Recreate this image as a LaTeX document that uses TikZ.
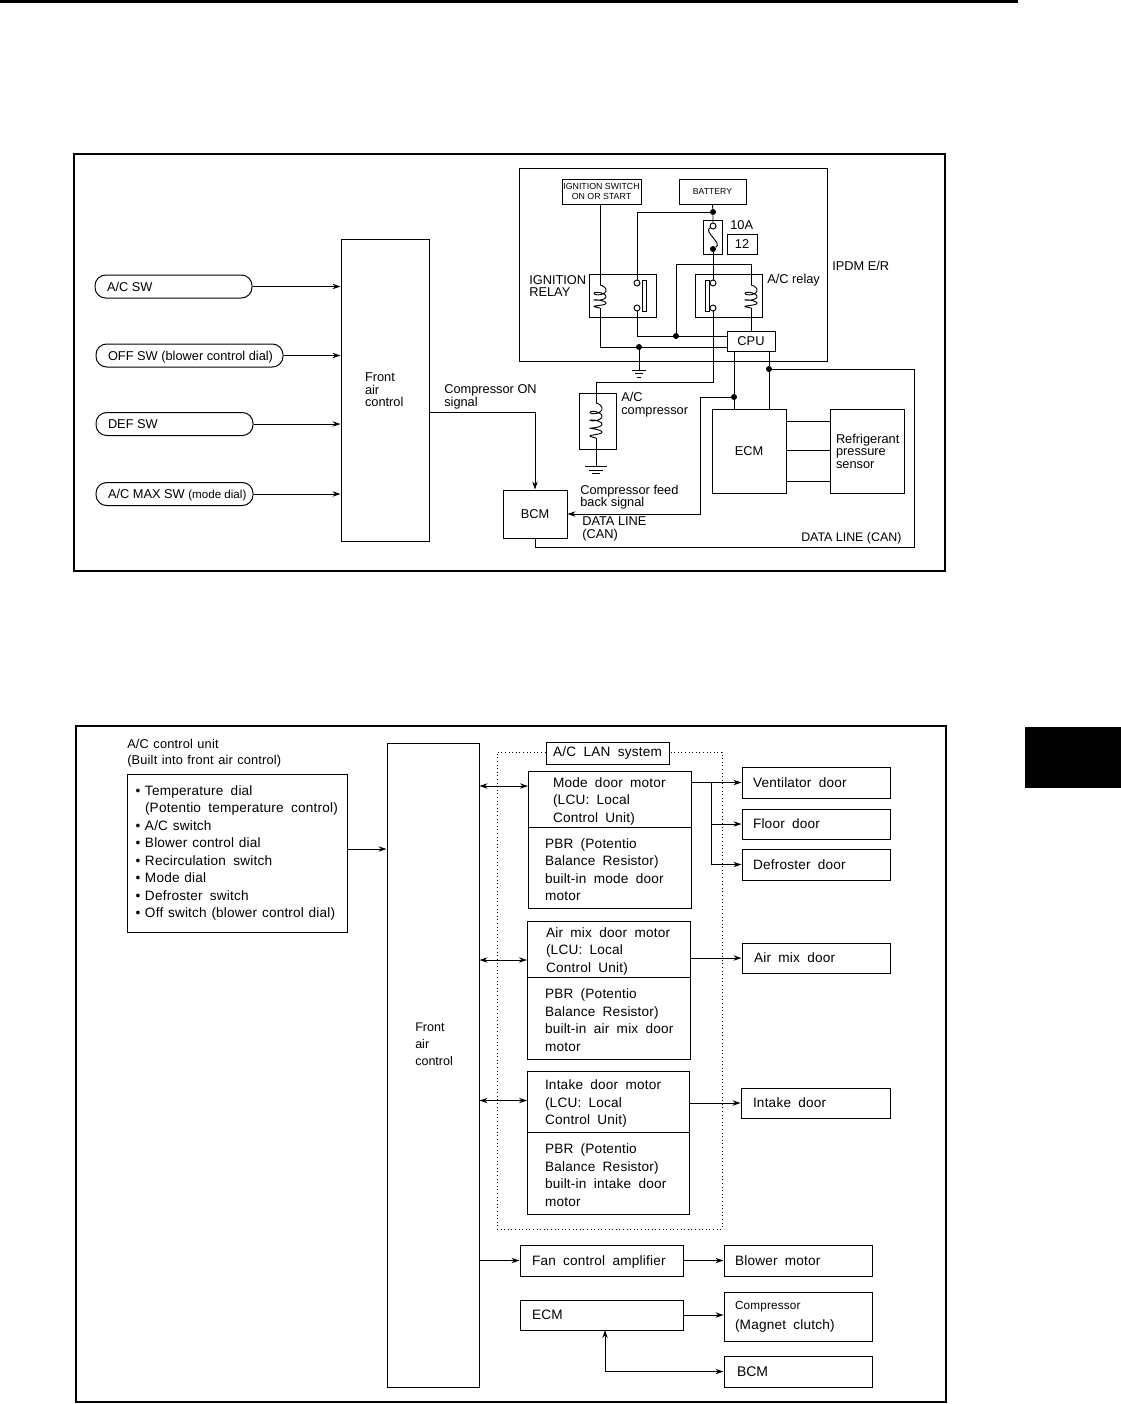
\documentclass[tikz,border=0pt]{standalone}
\usepackage{fontspec}
\setmainfont{Liberation Sans}
\newfontfamily\lanfont[WordSpace=1.85,LetterSpace=1.5]{Liberation Sans}
\newfontfamily\lantight[WordSpace=1.2,LetterSpace=1.4]{Liberation Sans}
\usetikzlibrary{arrows.meta}

% coil: centre x, top y, bottom y, turns
\newcommand{\coilv}[4]{%
  \draw[wire] plot[domain=0:360*#4,samples=40*#4,smooth]
    ({#1+6*sin(\x)},{#2+\x/(360*#4)*(#3-#2)+3.5*(1-cos(\x))*(1-\x/(360*#4))});
}
% earth symbol under a named coordinate, half width as argument
\newcommand{\earthsym}[2]{%
  \draw[wire] ([xshift=-#2*0.75pt]#1) -- ([xshift=#2*0.75pt]#1);
  \draw[wire] ([xshift=-#2*0.45pt,yshift=-3.5*0.75pt]#1) -- ([xshift=#2*0.45pt,yshift=-3.5*0.75pt]#1);
  \draw[wire] ([xshift=-#2*0.25pt,yshift=-7*0.75pt]#1) -- ([xshift=#2*0.25pt,yshift=-7*0.75pt]#1);
}
% one bulleted line of the control unit list
\newcommand{\unititem}[1]{\mbox{\llap{\textbullet\hspace{3.5pt}}#1}}

\tikzset{
  wire/.style={line width=0.7pt},
  arrowwire/.style={wire,-{Stealth[length=6pt,width=4pt]}},
  bothwire/.style={wire,{Stealth[length=6pt,width=4pt]}-{Stealth[length=6pt,width=4pt]}},
  frame/.style={line width=1.6pt},
  blockbox/.style n args={3}{draw,line width=0.75pt,inner ysep=0pt,inner xsep=#3*0.75pt,
    minimum width=#1*0.75pt,minimum height=#2*0.75pt,text width=#1*0.75pt-2*#3*0.75pt,align=flush left},
  motorbox/.style n args={3}{blockbox={#1}{#2}{#3},execute at begin node={\leavevmode\rule{0pt}{10.4pt}}},
  swbox/.style n args={2}{draw,line width=0.75pt,rounded corners=8pt,inner ysep=0pt,inner xsep=0pt,
    minimum width=#1*0.75pt,minimum height=23*0.75pt,text width=#1*0.75pt-2*#2*0.75pt,align=flush left},
  plainbox/.style={draw,line width=0.75pt,inner sep=0pt},
  lbl/.style={anchor=west,inner sep=0pt,align=left},
  topfont/.style={font=\fontsize{9.6}{9.4}\selectfont},
  lowfont/.style={font=\lanfont\fontsize{10.2}{13.1}\selectfont},
  contact/.style={circle,draw,fill=white,line width=0.7pt,inner sep=0pt,minimum size=4.5pt},
  junction/.style={circle,fill=black,inner sep=0pt,minimum size=4.5pt},
}

\begin{document}
\begin{tikzpicture}[x=0.75pt,y=-0.75pt]
\useasboundingbox (0,0) rectangle (1121,1404);

% Page marks
\fill[black] (0,0) rectangle (1018,3);
\fill[black] (1025,727) rectangle (1121,788);

% Upper frame
\draw[frame] (74,154) rectangle (945,571);

% Switches and front air control
\begin{scope}[topfont]
\node[swbox={157}{12}] (acsw) at (173.5,286.5) {A/C SW};
\node[swbox={187}{12},text depth=0pt] (offsw) at (189.5,355.5) {\mbox{OFF SW (blower control dial)}};
\node[swbox={157}{12}] (defsw) at (174.5,424) {DEF SW};
\node[swbox={157}{12},text depth=0pt] (maxsw) at (174.5,494) {\mbox{A/C MAX SW {\fontsize{8.7}{9}\selectfont(mode dial)}}};
\node[blockbox={88}{302}{24}] (fac) at (385,390) {Front\\air\\control};

\draw[arrowwire] (acsw.east) -- (fac.west |- acsw.east);
\draw[arrowwire] (offsw.east) -- (fac.west |- offsw.east);
\draw[arrowwire] (defsw.east) -- (fac.west |- defsw.east);
\draw[arrowwire] (maxsw.east) -- (fac.west |- maxsw.east);

% IPDM E/R
\node[plainbox,minimum width=308*0.75pt,minimum height=193*0.75pt] (ipdm) at (673,264.5) {};
\node[lbl] (ipdmlbl) at (832,266) {IPDM E/R};
\node[plainbox,minimum width=79*0.75pt,minimum height=25*0.75pt,align=center,
  font=\fontsize{6.6}{7.4}\selectfont] (ignsw) at (601.5,191.5) {IGNITION SWITCH\\ON OR START};
\node[plainbox,minimum width=67*0.75pt,minimum height=25*0.75pt,
  font=\fontsize{6.5}{7.4}\selectfont] (battery) at (712.5,191.5) {BATTERY};
\node[plainbox,minimum width=19*0.75pt,minimum height=34*0.75pt] (fusebox) at (712.5,237) {};
\node[plainbox,minimum width=30*0.75pt,minimum height=20*0.75pt] (fuseno) at (742,244) {12};
\node[lbl] (fuselbl) at (730,225) {10A};
\node[plainbox,minimum width=67*0.75pt,minimum height=43*0.75pt] (ignrelay) at (622.5,295.5) {};
\node[plainbox,minimum width=67*0.75pt,minimum height=43*0.75pt] (acrelay) at (728.5,295.5) {};
\node[lbl] (ignlbl) at (529,286) {IGNITION\\RELAY};
\node[lbl] (acrlbl) at (767,280) {A/C relay};
\node[plainbox,fill=white,minimum width=48*0.75pt,minimum height=20*0.75pt] (cpu) at (751,341) {CPU};

% Relay contacts and bars
\node[contact] (ignca) at (637,283) {};
\node[contact] (igncb) at (637,308) {};
\node[contact] (acca) at (713,283) {};
\node[contact] (accb) at (713,308) {};
\node[contact] (fusea) at (713,226) {};
\node[junction] (fuseb) at (713,249) {};
\node[plainbox,minimum width=4*0.75pt,minimum height=31*0.75pt] (ignbar) at (644,295.5) {};
\node[plainbox,minimum width=4*0.75pt,minimum height=31*0.75pt] (acbar) at (707,295.5) {};

% Junctions
\node[junction] (jbat) at (713,212) {};
\node[junction] (jrel) at (676,336) {};
\node[junction] (jgnd) at (639,347) {};
\node[junction] (jfb) at (734,397) {};
\node[junction] (jcan) at (769,369) {};
\coordinate (igncoilt) at (600,285);
\coordinate (igncoilb) at (600,308);
\coordinate (accoilt) at (751,285);
\coordinate (accoilb) at (751,308);
\coordinate (gndipdm) at (639,370);
\coordinate (compcoilt) at (596,403);
\coordinate (compcoilb) at (596,438);
\coordinate (gndcomp) at (596,466.5);
\coordinate (onsig) at (535,412);

% Wiring inside the IPDM
\draw[wire] (ignsw.south -| igncoilt) -- (igncoilt);
\coilv{600}{285}{308}{3}
\coilv{751}{285}{308}{3}
\draw[wire] (battery.south) -- (jbat) -- (fusea);
\draw[wire] (jbat) -| (ignca);
\draw[wire] (fusea) .. controls (703,232) and (723,243) .. (fuseb);
\draw[wire] (fuseb) -- (acca);
\draw[wire] (accoilt) -- ++(0,-21) -| (jrel);
\draw[wire] (igncb) |- (cpu.west |- jrel);
\draw[wire] (igncoilb) |- (cpu.west |- jgnd);
\draw[wire] (accoilb) -- (accoilb |- cpu.north);
\draw[wire] (jgnd) -- (gndipdm);
\earthsym{gndipdm}{7}

% A/C compressor
\node[plainbox,minimum width=37*0.75pt,minimum height=56*0.75pt] (compbox) at (597.5,421) {};
\node[lbl] (complbl) at (621,404.5) {A/C\\compressor};
\draw[wire] (accb) -- ++(0,74) -| (compcoilt);
\coilv{596}{403}{438}{4}
\draw[wire] (compcoilb) -- (gndcomp);
\earthsym{gndcomp}{11}

% ECM, sensor and BCM
\node[plainbox,minimum width=74*0.75pt,minimum height=84*0.75pt] (ecm) at (749,451) {\raisebox{-1.5pt}{ECM}};
\node[blockbox={74}{84}{6}] (sensor) at (867,451) {Refrigerant\\pressure\\sensor};
\node[plainbox,minimum width=64*0.75pt,minimum height=48*0.75pt] (bcm) at (535,514) {BCM};
\draw[wire] (ecm.east |- 0,421) -- (sensor.west |- 0,421);
\draw[wire] (ecm.east |- 0,450) -- (sensor.west |- 0,450);
\draw[wire] (ecm.east |- 0,481) -- (sensor.west |- 0,481);
\draw[wire] (cpu.south -| jfb) -- (jfb) -- (ecm.north -| jfb);
\draw[wire] (cpu.south -| jcan) -- (jcan) -- (ecm.north -| jcan);
\draw[arrowwire] (jfb) -- ++(-34,0) |- (bcm.east);
\draw[wire] (jcan) -- ++(145,0) -- ++(0,178) -| (bcm.south);
\draw[wire] (fac.east |- onsig) -- (onsig);
\draw[arrowwire] (onsig) -- (bcm.north);

\node[lbl] (onlbl) at (444,397) {Compressor ON\\signal};
\node[lbl] (fblbl) at (580,497) {Compressor feed\\back signal};
\node[lbl] (canlbl) at (582,529) {DATA LINE\\(CAN)};
\node[lbl,font=\fontsize{9.3}{9.4}\selectfont] (canrlbl) at (801,538) {DATA LINE (CAN)};
\end{scope}

% Lower frame
\draw[frame] (76,726) rectangle (946,1402);

\begin{scope}[lowfont]
\node[lbl,font=\lantight\fontsize{9.6}{12}\selectfont] (unitlbl) at (127,753) {A/C control unit\\(Built into front air control)};
\node[blockbox={220}{158}{18}] (unit) at (237,853) {%
  \unititem{Temperature dial}\\
  \mbox{(Potentio temperature control)}\\
  \unititem{\lantight A/C switch}\\
  \unititem{\lantight Blower control dial}\\
  \unititem{Recirculation switch}\\
  \unititem{\lantight Mode dial}\\
  \unititem{Defroster switch}\\
  \unititem{\lantight Off switch (blower control dial)}};
\node[blockbox={92}{644}{28}] (fac2) at (433,1065) {};
\node[lbl,font=\fontsize{9.4}{12.6}\selectfont] (fac2lbl) at (415,1044.5) {Front\\air\\control};

% A/C LAN system
\node[draw,dotted,line width=0.7pt,minimum width=225*0.75pt,minimum height=477*0.75pt] (lanzone) at (609.5,990.5) {};
\node[plainbox,fill=white,minimum width=123*0.75pt,minimum height=22*0.75pt] (lanlbl) at (607.5,753) {A/C LAN system};

\node[motorbox={163}{56}{25}] (modemotor) at (609.5,799) {Mode door motor\\(LCU: Local\\Control Unit)};
\node[motorbox={163}{81}{17}] (modepbr) at (609.5,867.5) {PBR (Potentio\\Balance Resistor)\\built-in mode door\\motor};
\node[motorbox={163}{56}{19}] (airmotor) at (608.5,949) {\mbox{Air mix door motor}\\(LCU: Local\\Control Unit)};
\node[motorbox={163}{82}{18}] (airpbr) at (608.5,1018) {PBR (Potentio\\Balance Resistor)\\\mbox{built-in air mix door}\\motor};
\node[motorbox={162}{61}{18}] (intakemotor) at (608,1101.5) {Intake door motor\\(LCU: Local\\Control Unit)};
\node[motorbox={162}{82}{18}] (intakepbr) at (608,1173) {PBR (Potentio\\Balance Resistor)\\\mbox{built-in intake door}\\motor};

\node[blockbox={148}{31}{11}] (ventdoor) at (816,782.5) {Ventilator door};
\node[blockbox={148}{30}{11}] (floordoor) at (816,824) {Floor door};
\node[blockbox={148}{31}{11}] (defdoor) at (816,864.5) {Defroster door};
\node[blockbox={148}{30}{12}] (airdoor) at (816,958) {Air mix door};
\node[blockbox={149}{30}{12}] (intakedoor) at (815.5,1103) {Intake door};

\node[blockbox={163}{31}{12},text depth=0pt] (fanamp) at (601.5,1260.5) {Fan control amplifier};
\node[blockbox={148}{31}{11}] (blower) at (798,1260.5) {Blower motor};
\node[blockbox={163}{30}{12}] (ecmlow) at (601.5,1315) {ECM};
\node[blockbox={148}{49}{11}] (compmag) at (798,1316.5) {{\fontsize{8.8}{13.1}\selectfont Compressor}\\[2pt](Magnet clutch)};
\node[blockbox={148}{31}{13},font=\fontsize{10.5}{13}\selectfont] (bcmlow) at (798,1371.5) {BCM};

\coordinate (unitio) at (347,849);
\coordinate (modeio) at (528,786);
\coordinate (airio) at (527,960);
\coordinate (intakeio) at (527,1100.5);
\coordinate (jmode) at (711,782.5);
\coordinate (jbcm) at (605,1330);

\draw[arrowwire] (unitio) -- (fac2.west |- unitio);
\draw[bothwire] (fac2.east |- modeio) -- (modeio);
\draw[bothwire] (fac2.east |- airio) -- (airio);
\draw[bothwire] (fac2.east |- intakeio) -- (intakeio);
\draw[arrowwire] (modemotor.east |- ventdoor.west) -- (ventdoor.west);
\draw[arrowwire] (jmode) |- (floordoor.west);
\draw[arrowwire] (jmode) |- (defdoor.west);
\draw[arrowwire] (airmotor.east |- airdoor.west) -- (airdoor.west);
\draw[arrowwire] (intakemotor.east |- intakedoor.west) -- (intakedoor.west);
\draw[arrowwire] (fac2.east |- fanamp.west) -- (fanamp.west);
\draw[arrowwire] (fanamp.east) -- (blower.west);
\draw[arrowwire] (ecmlow.east) -- (compmag.west |- ecmlow.east);
\draw[bothwire] (jbcm) |- (bcmlow.west);
\end{scope}

\end{tikzpicture}
\end{document}
